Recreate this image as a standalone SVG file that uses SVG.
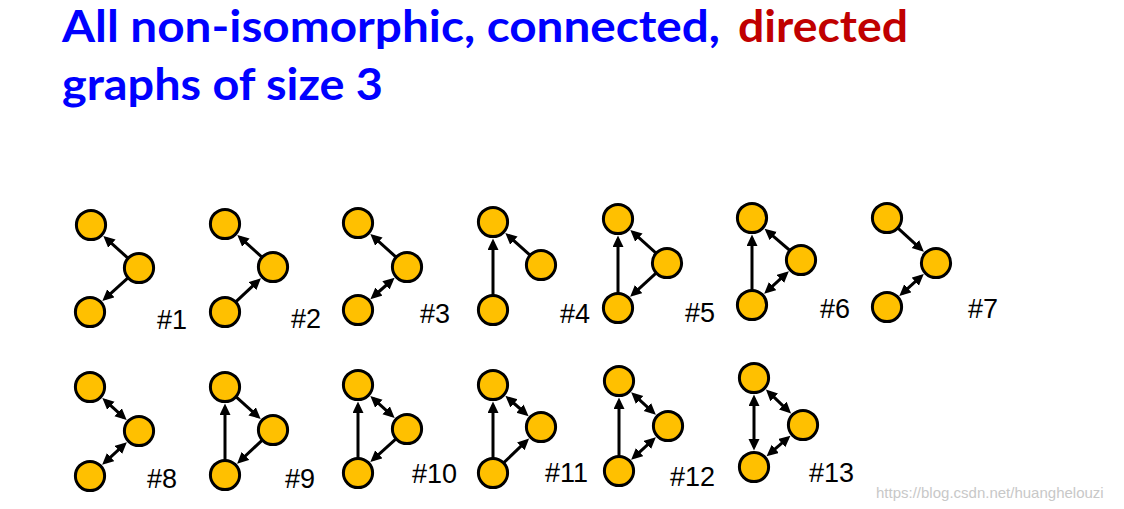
<svg xmlns="http://www.w3.org/2000/svg" width="1124" height="509" viewBox="0 0 1124 509">
<style>
.title{font-family:Lato,"Open Sans","Liberation Sans",sans-serif;font-weight:bold;font-size:43px}
.blue{fill:#0000FF}
.red{fill:#C00000}
.lbl{font-family:"Liberation Sans",Arial,sans-serif;font-size:27px;fill:#000}
.wm{font-family:"Liberation Sans",Arial,sans-serif;font-size:15px;fill:#c8c8c8}
.node{fill:#FFC000;stroke:#000;stroke-width:3}
.e{stroke:#000;stroke-width:3;fill:none;marker-end:url(#ah)}
.b{stroke:#000;stroke-width:3;fill:none;marker-start:url(#ah);marker-end:url(#ah)}
</style>
<defs>
<marker id="ah" markerUnits="userSpaceOnUse" markerWidth="13" markerHeight="12" refX="7.5" refY="5.5" orient="auto-start-reverse" viewBox="0 0 13 12">
<path d="M0,0 L11.5,5.5 L0,11 z" fill="#000"/>
</marker>
</defs>
<rect width="1124" height="509" fill="#fff"/>
<g id="title">
<text class="title blue" x="62" y="42" textLength="658" lengthAdjust="spacingAndGlyphs">All non-isomorphic, connected,</text>
<text class="title red" x="738" y="42" textLength="170" lengthAdjust="spacingAndGlyphs">directed</text>
<text class="title blue" x="62" y="100" textLength="321" lengthAdjust="spacingAndGlyphs">graphs of size 3</text>
</g>
<g id="connectors">
<!-- #1 -->
<line class="e" x1="131.5" y1="261.3" x2="106.3" y2="238.7"/>
<line class="e" x1="131.6" y1="274.7" x2="105.3" y2="298.3"/>
<!-- #2 -->
<line class="e" x1="265.5" y1="260.3" x2="240.3" y2="237.7"/>
<line class="e" x1="232.3" y1="305.2" x2="258.0" y2="281.0"/>
<!-- #3 -->
<line class="e" x1="399.6" y1="260.3" x2="373.3" y2="236.7"/>
<line class="b" x1="391.6" y1="280.5" x2="373.4" y2="296.5"/>
<!-- #4 -->
<line class="e" x1="493" y1="300" x2="493" y2="242.5"/>
<line class="e" x1="533.5" y1="258.3" x2="508.3" y2="235.7"/>
<!-- #5 -->
<line class="e" x1="618" y1="298" x2="618" y2="239.5"/>
<line class="e" x1="659.6" y1="256.3" x2="633.3" y2="232.7"/>
<line class="e" x1="659.6" y1="269.8" x2="633.1" y2="294.1"/>
<!-- #6 -->
<line class="e" x1="752" y1="295" x2="752" y2="238.5"/>
<line class="e" x1="793.4" y1="253.5" x2="767.6" y2="231.3"/>
<line class="b" x1="785.9" y1="273.9" x2="767.1" y2="291.1"/>
<!-- #7 -->
<line class="e" x1="894.4" y1="224.8" x2="920.9" y2="249.1"/>
<line class="b" x1="920.8" y1="276.7" x2="902.3" y2="293.3"/>
<!-- #8 -->
<line class="b" x1="105.3" y1="400.7" x2="123.7" y2="417.3"/>
<line class="b" x1="123.9" y1="444.9" x2="105.1" y2="462.1"/>
<!-- #9 -->
<line class="e" x1="225" y1="465" x2="225" y2="407.5"/>
<line class="e" x1="232.5" y1="393.7" x2="257.7" y2="416.3"/>
<line class="e" x1="265.7" y1="436.8" x2="240.0" y2="461.0"/>
<!-- #10 -->
<line class="e" x1="358" y1="463" x2="358" y2="405.5"/>
<line class="b" x1="373.3" y1="398.7" x2="391.7" y2="415.3"/>
<line class="e" x1="399.6" y1="435.7" x2="373.3" y2="459.3"/>
<!-- #11 -->
<line class="e" x1="493" y1="463" x2="493" y2="405.5"/>
<line class="b" x1="508.4" y1="398.5" x2="525.6" y2="413.5"/>
<line class="e" x1="500.2" y1="466.1" x2="526.2" y2="441.2"/>
<!-- #12 -->
<line class="e" x1="619" y1="461" x2="619" y2="401.5"/>
<line class="b" x1="634.1" y1="394.9" x2="652.9" y2="412.1"/>
<line class="b" x1="652.9" y1="439.9" x2="634.1" y2="457.1"/>
<!-- #13 -->
<line class="b" x1="754" y1="398.5" x2="754" y2="446.5"/>
<line class="b" x1="768.8" y1="392.2" x2="788.2" y2="410.8"/>
<line class="b" x1="787.4" y1="438.3" x2="769.6" y2="453.7"/>
</g>
<g id="g1"><circle class="node" cx="91" cy="225" r="14.6"/><circle class="node" cx="139" cy="268" r="14.6"/><circle class="node" cx="90" cy="312" r="14.6"/><text class="lbl" x="157" y="329">#1</text></g>
<g id="g2"><circle class="node" cx="225" cy="224" r="14.6"/><circle class="node" cx="273" cy="267" r="14.6"/><circle class="node" cx="225" cy="312" r="14.6"/><text class="lbl" x="291" y="328">#2</text></g>
<g id="g3"><circle class="node" cx="358" cy="223" r="14.6"/><circle class="node" cx="407" cy="267" r="14.6"/><circle class="node" cx="358" cy="310" r="14.6"/><text class="lbl" x="420" y="323">#3</text></g>
<g id="g4"><circle class="node" cx="493" cy="222" r="14.6"/><circle class="node" cx="541" cy="265" r="14.6"/><circle class="node" cx="493" cy="310" r="14.6"/><text class="lbl" x="560" y="323">#4</text></g>
<g id="g5"><circle class="node" cx="618" cy="219" r="14.6"/><circle class="node" cx="667" cy="263" r="14.6"/><circle class="node" cx="618" cy="308" r="14.6"/><text class="lbl" x="685" y="322">#5</text></g>
<g id="g6"><circle class="node" cx="752" cy="218" r="14.6"/><circle class="node" cx="801" cy="260" r="14.6"/><circle class="node" cx="752" cy="305" r="14.6"/><text class="lbl" x="820" y="318">#6</text></g>
<g id="g7"><circle class="node" cx="887" cy="218" r="14.6"/><circle class="node" cx="936" cy="263" r="14.6"/><circle class="node" cx="887" cy="307" r="14.6"/><text class="lbl" x="968" y="318">#7</text></g>
<g id="g8"><circle class="node" cx="90" cy="387" r="14.6"/><circle class="node" cx="139" cy="431" r="14.6"/><circle class="node" cx="90" cy="476" r="14.6"/><text class="lbl" x="147" y="488">#8</text></g>
<g id="g9"><circle class="node" cx="225" cy="387" r="14.6"/><circle class="node" cx="273" cy="430" r="14.6"/><circle class="node" cx="225" cy="475" r="14.6"/><text class="lbl" x="285" y="488">#9</text></g>
<g id="g10"><circle class="node" cx="358" cy="385" r="14.6"/><circle class="node" cx="407" cy="429" r="14.6"/><circle class="node" cx="358" cy="473" r="14.6"/><text class="lbl" x="412" y="483">#10</text></g>
<g id="g11"><circle class="node" cx="493" cy="385" r="14.6"/><circle class="node" cx="541" cy="427" r="14.6"/><circle class="node" cx="493" cy="473" r="14.6"/><text class="lbl" x="545" y="482">#11</text></g>
<g id="g12"><circle class="node" cx="619" cy="381" r="14.6"/><circle class="node" cx="668" cy="426" r="14.6"/><circle class="node" cx="619" cy="471" r="14.6"/><text class="lbl" x="670" y="486">#12</text></g>
<g id="g13"><circle class="node" cx="754" cy="378" r="14.6"/><circle class="node" cx="803" cy="425" r="14.6"/><circle class="node" cx="754" cy="467" r="14.6"/><text class="lbl" x="809" y="482">#13</text></g>
<text class="wm" x="876" y="498">https://blog.csdn.net/huanghelouzi</text>
</svg>
